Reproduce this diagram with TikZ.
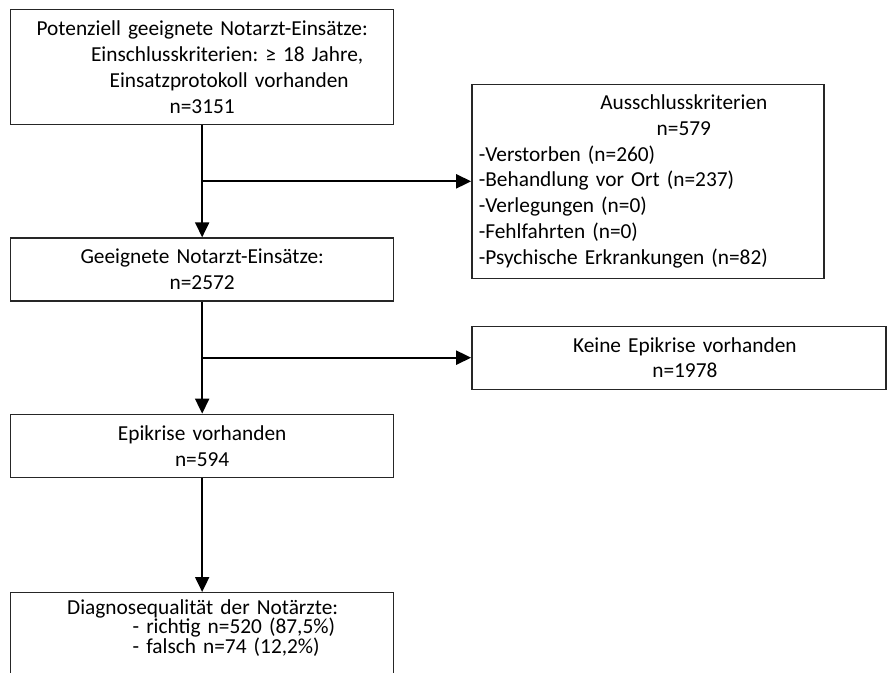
\documentclass[tikz,border=0pt]{standalone}
\usepackage{fontspec}
\setmainfont{Carlito}
\usepackage{tikz}
\usetikzlibrary{arrows.meta,positioning,calc}
\frenchspacing

\begin{document}
\begin{tikzpicture}[
    node distance=84pt,
    font=\fontsize{16pt}{19.3pt}\selectfont,
    box/.style={rectangle, draw=black!85, line width=1pt, inner sep=5.25pt, align=center, anchor=north},
    leftbox/.style={box, text width=276.75pt},
    arrow/.style={-{Triangle[length=11.25pt, width=10.5pt]}, line width=1.5pt}
]
    \useasboundingbox (0,0) rectangle (665.25pt,-504.75pt);
    \clip (0,0) rectangle (665.25pt,-504.75pt);

    % left column
    \node[leftbox, minimum height=86.25pt, anchor=north west] (potenziell) at (7.5pt,-6.75pt)
        {Potenziell geeignete Notarzt-Einsätze:\\
         \hspace*{37.5pt}Einschlusskriterien: ≥ 18 Jahre,\\
         \hspace*{40.5pt}Einsatzprotokoll vorhanden\\
         n=3151};
    \node[leftbox, minimum height=47.25pt, below=of potenziell] (geeignet)
        {Geeignete Notarzt-Einsätze:\\ n=2572};
    \node[leftbox, minimum height=47.25pt, below=of geeignet] (epikrise)
        {Epikrise vorhanden\\ n=594};
    \node[leftbox, below=85.5pt of epikrise, align=left,
          font=\fontsize{16pt}{14.6pt}\selectfont] (diagnose)
        {\hspace*{138.75pt}\makebox[0pt]{Diagnosequalität der Notärzte:}\\
         \hspace*{86.25pt}- richtig n=520 (87,5\%)\\
         \hspace*{86.25pt}- falsch n=74 (12,2\%)\\
         \rule{0pt}{20pt}};

    % branch points
    \coordinate (split1) at ($(potenziell.south)!0.5!(geeignet.north)$);
    \coordinate (split2) at ($(geeignet.south)!0.5!(epikrise.north)$);

    % right column
    \node[box, anchor=west, text width=253.5pt, minimum height=145.5pt, align=left]
        (ausschluss) at ([xshift=201.75pt]split1)
        {\hspace*{153.75pt}\makebox[0pt]{Ausschlusskriterien}\\
         \hspace*{153.75pt}\makebox[0pt]{n=579}\\
         -Verstorben (n=260)\\
         -Behandlung vor Ort (n=237)\\
         -Verlegungen (n=0)\\
         -Fehlfahrten (n=0)\\
         -Psychische Erkrankungen (n=82)};
    \node[box, anchor=west, text width=300pt, minimum height=47.25pt]
        (keine) at ([xshift=201.75pt]split2)
        {\hspace*{9pt}Keine Epikrise vorhanden\\ \hspace*{9pt}n=1978};

    % connectors
    \draw[arrow] (potenziell) -- (geeignet);
    \draw[arrow] (geeignet) -- (epikrise);
    \draw[arrow] (epikrise) -- (diagnose);
    \draw[arrow] (split1) -- (ausschluss.west);
    \draw[arrow] (split2) -- (keine.west);
\end{tikzpicture}
\end{document}
